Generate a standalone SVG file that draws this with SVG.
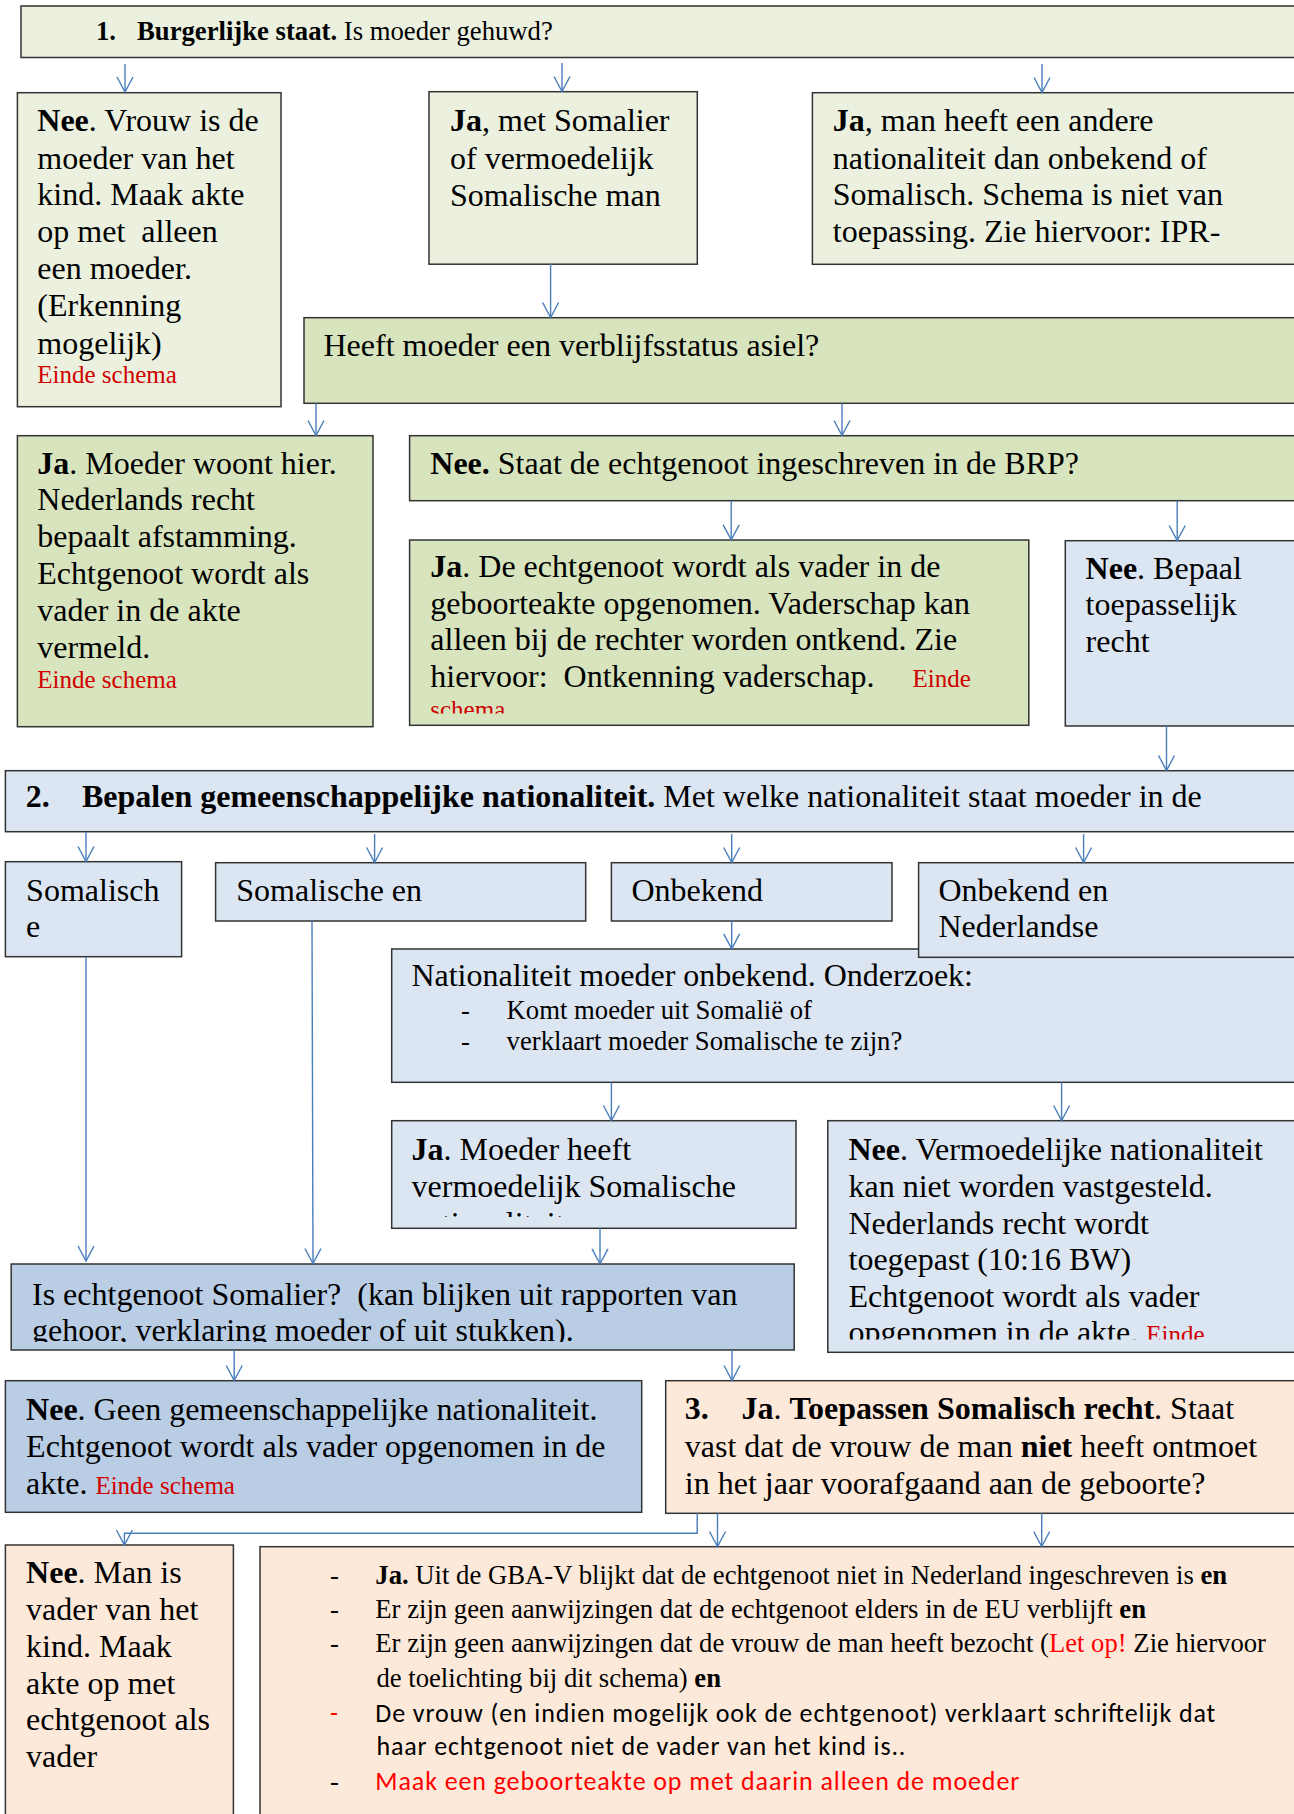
<svg xmlns="http://www.w3.org/2000/svg" width="1294" height="1814" viewBox="0 0 1294 1814">
<style>
.bx{stroke:#333;stroke-width:1.5}
.g1{fill:#EBF1DE}.g2{fill:#D7E4BD}.b1{fill:#DCE6F2}.b2{fill:#B9CDE5}.p1{fill:#FDE9D9}
text{font-family:"Liberation Serif","Times New Roman",serif;font-size:32px;fill:#000}
.s{font-size:26.7px}
.e{fill:#D00000;font-size:25px}
.b{font-weight:bold}
.r{fill:#FF0000}
.c{font-family:"Carlito","Lato",sans-serif;font-size:26px}
.conn{stroke:#4A7EBB;stroke-width:1.4;fill:none;marker-end:url(#arr)}
</style>
<defs>
<marker id="arr" markerUnits="userSpaceOnUse" markerWidth="20" markerHeight="20" viewBox="-16 -10 20 20" refX="0" refY="0" orient="auto">
<path d="M-15,-8 L0,0 L-15,8" fill="none" stroke="#4A7EBB" stroke-width="1.4"/>
</marker>
<clipPath id="cH"><rect x="400" y="540" width="640" height="173.5"/></clipPath>
<clipPath id="cQ"><rect x="390" y="1120" width="410" height="97"/></clipPath>
<clipPath id="cR"><rect x="820" y="1120" width="480" height="219.5"/></clipPath>
<clipPath id="cP"><rect x="10" y="1264" width="790" height="78"/></clipPath>
</defs>

<g id="nA">
<rect class="bx g1" x="21" y="6" width="1290" height="51.5"/>
<text class="s" x="96" y="39.5"><tspan class="b">1.</tspan><tspan x="137" class="b">Burgerlijke staat.</tspan> Is moeder gehuwd?</text>
</g>

<g id="nB">
<rect class="bx g1" x="17.4" y="92.7" width="263.6" height="314"/>
<text x="37.3" y="131.3" xml:space="preserve"><tspan class="b">Nee</tspan>. Vrouw is de</text>
<text x="37.3" y="168.5">moeder van het</text>
<text x="37.3" y="205.3">kind. Maak akte</text>
<text x="37.3" y="241.5" xml:space="preserve">op met  alleen</text>
<text x="37.3" y="279.3">een moeder.</text>
<text x="37.3" y="316">(Erkenning</text>
<text x="37.3" y="353.5">mogelijk)</text>
<text class="e" x="37.3" y="383.2">Einde schema</text>
</g>

<g id="nC">
<rect class="bx g1" x="429" y="91.7" width="268.3" height="172.5"/>
<text x="450" y="131.3"><tspan class="b">Ja</tspan>, met Somalier</text>
<text x="450" y="168.7">of vermoedelijk</text>
<text x="450" y="206">Somalische man</text>
</g>

<g id="nD">
<rect class="bx g1" x="812.4" y="92.7" width="500" height="171.6"/>
<text x="832.8" y="131.3"><tspan class="b">Ja</tspan>, man heeft een andere</text>
<text x="832.8" y="168.5">nationaliteit dan onbekend of</text>
<text x="832.8" y="205.3">Somalisch. Schema is niet van</text>
<text x="832.8" y="241.5">toepassing. Zie hiervoor: IPR-</text>
</g>

<g id="nE">
<rect class="bx g2" x="304" y="317.7" width="1000" height="85.6"/>
<text x="323.5" y="355.8">Heeft moeder een verblijfsstatus asiel?</text>
</g>

<g id="nF">
<rect class="bx g2" x="17.4" y="435.7" width="355.6" height="291"/>
<text x="37.3" y="473.7"><tspan class="b">Ja</tspan>. Moeder woont hier.</text>
<text x="37.3" y="510.3">Nederlands recht</text>
<text x="37.3" y="547">bepaalt afstamming.</text>
<text x="37.3" y="584.3">Echtgenoot wordt als</text>
<text x="37.3" y="621">vader in de akte</text>
<text x="37.3" y="657.7">vermeld.</text>
<text class="e" x="37.3" y="688.2">Einde schema</text>
</g>

<g id="nG">
<rect class="bx g2" x="409.6" y="435.7" width="900" height="65"/>
<text x="430.3" y="474"><tspan class="b">Nee.</tspan> Staat de echtgenoot ingeschreven in de BRP?</text>
</g>

<g id="nH">
<rect class="bx g2" x="409.6" y="540" width="619.2" height="185.3"/>
<g clip-path="url(#cH)">
<text x="430.3" y="577"><tspan class="b">Ja</tspan>. De echtgenoot wordt als vader in de</text>
<text x="430.3" y="613.7">geboorteakte opgenomen. Vaderschap kan</text>
<text x="430.3" y="650.3">alleen bij de rechter worden ontkend. Zie</text>
<text x="430.3" y="687" xml:space="preserve">hiervoor:  Ontkenning vaderschap.</text>
<text class="e" x="912.6" y="686.5">Einde</text>
<text class="e" x="430.3" y="718">schema</text>
</g>
</g>

<g id="nI">
<rect class="bx b1" x="1065.3" y="540.7" width="240" height="185.3"/>
<text x="1085.6" y="578.7"><tspan class="b">Nee</tspan>. Bepaal</text>
<text x="1085.6" y="615.3">toepasselijk</text>
<text x="1085.6" y="652">recht</text>
</g>

<g id="nJ">
<rect class="bx b1" x="5.4" y="770.7" width="1300" height="61"/>
<text x="25.7" y="807.3"><tspan class="b">2.</tspan><tspan x="82" class="b">Bepalen gemeenschappelijke nationaliteit.</tspan> Met welke nationaliteit staat moeder in de</text>
</g>

<g id="nK">
<rect class="bx b1" x="5.4" y="861.7" width="176.2" height="95"/>
<text x="26.1" y="900.5">Somalisch</text>
<text x="26.1" y="937.2">e</text>
</g>

<g id="nL">
<rect class="bx b1" x="215.6" y="862.7" width="370.1" height="58.3"/>
<text x="236.3" y="900.5">Somalische en</text>
</g>

<g id="nM">
<rect class="bx b1" x="611.4" y="862.7" width="280.6" height="58.3"/>
<text x="631.4" y="900.5">Onbekend</text>
</g>

<g id="nO">
<rect class="bx b1" x="391.7" y="949" width="910" height="133.3"/>
<text x="411.4" y="986.2">Nationaliteit moeder onbekend. Onderzoek:</text>
<text class="s" x="461" y="1019.3">-</text>
<text class="s" x="506.6" y="1019.3">Komt moeder uit Somalië of</text>
<text class="s" x="461" y="1050.3">-</text>
<text class="s" x="506.6" y="1050.3">verklaart moeder Somalische te zijn?</text>
</g>

<g id="nN">
<rect class="bx b1" x="918.6" y="862.7" width="390" height="94.6"/>
<text x="938.5" y="900.5">Onbekend en</text>
<text x="938.5" y="937.2">Nederlandse</text>
</g>

<g id="nQ">
<rect class="bx b1" x="391.7" y="1120.7" width="404.3" height="107.6"/>
<g clip-path="url(#cQ)">
<text x="411.6" y="1160.3"><tspan class="b">Ja</tspan>. Moeder heeft</text>
<text x="411.6" y="1197">vermoedelijk Somalische</text>
<text x="411.6" y="1233.7">nationaliteit</text>
</g>
</g>

<g id="nR">
<rect class="bx b1" x="827.8" y="1120.7" width="480" height="231.6"/>
<g clip-path="url(#cR)">
<text x="848.5" y="1160.3"><tspan class="b">Nee</tspan>. Vermoedelijke nationaliteit</text>
<text x="848.5" y="1197">kan niet worden vastgesteld.</text>
<text x="848.5" y="1233.7">Nederlands recht wordt</text>
<text x="848.5" y="1270.3">toegepast (10:16 BW)</text>
<text x="848.5" y="1307">Echtgenoot wordt als vader</text>
<text x="848.5" y="1342.7">opgenomen in de akte. <tspan class="e">Einde</tspan></text>
</g>
</g>

<g id="nP">
<rect class="bx b2" x="11.2" y="1264" width="783" height="86"/>
<g clip-path="url(#cP)">
<text x="32" y="1305.3" xml:space="preserve">Is echtgenoot Somalier?  (kan blijken uit rapporten van</text>
<text x="32" y="1341">gehoor, verklaring moeder of uit stukken).</text>
</g>
</g>

<g id="nS">
<rect class="bx b2" x="5.4" y="1380.7" width="636.3" height="131.6"/>
<text x="26.1" y="1420.3"><tspan class="b">Nee</tspan>. Geen gemeenschappelijke nationaliteit.</text>
<text x="26.1" y="1457">Echtgenoot wordt als vader opgenomen in de</text>
<text x="26.1" y="1493.7">akte. <tspan class="e">Einde schema</tspan></text>
</g>

<g id="nT">
<rect class="bx p1" x="665.7" y="1380.7" width="640" height="132.6"/>
<text x="684.8" y="1419"><tspan class="b">3.</tspan><tspan x="741.6" class="b">Ja</tspan>. <tspan class="b">Toepassen Somalisch recht</tspan>. Staat</text>
<text x="684.8" y="1457">vast dat de vrouw de man <tspan class="b">niet</tspan> heeft ontmoet</text>
<text x="684.8" y="1493.7">in het jaar voorafgaand aan de geboorte?</text>
</g>

<g id="nU">
<rect class="bx p1" x="5.4" y="1545" width="228" height="290"/>
<text x="26.1" y="1582.7"><tspan class="b">Nee</tspan>. Man is</text>
<text x="26.1" y="1620.3">vader van het</text>
<text x="26.1" y="1657">kind. Maak</text>
<text x="26.1" y="1693.7">akte op met</text>
<text x="26.1" y="1730.3">echtgenoot als</text>
<text x="26.1" y="1767">vader</text>
</g>

<g id="nV">
<rect class="bx p1" x="260" y="1546.7" width="1050" height="290"/>
<text class="s" x="330" y="1584.2">-</text>
<text class="s" x="375.3" y="1584.2"><tspan class="b">Ja.</tspan> Uit de GBA-V blijkt dat de echtgenoot niet in Nederland ingeschreven is <tspan class="b">en</tspan></text>
<text class="s" x="330" y="1618.2">-</text>
<text class="s" x="375.3" y="1618.2">Er zijn geen aanwijzingen dat de echtgenoot elders in de EU verblijft <tspan class="b">en</tspan></text>
<text class="s" x="330" y="1652.2">-</text>
<text class="s" x="375.3" y="1652.2">Er zijn geen aanwijzingen dat de vrouw de man heeft bezocht (<tspan class="r">Let op!</tspan> Zie hiervoor</text>
<text class="s" x="376.4" y="1686.5">de toelichting bij dit schema) <tspan class="b">en</tspan></text>
<text class="c r" x="330" y="1721.5">-</text>
<text class="c" x="375.3" y="1721.5" textLength="840">De vrouw (en indien mogelijk ook de echtgenoot) verklaart schriftelijk dat</text>
<text class="c" x="376.4" y="1754.8" textLength="529">haar echtgenoot niet de vader van het kind is..</text>
<text class="s" x="330" y="1789.8">-</text>
<text class="c r" x="375.3" y="1789.8" textLength="644">Maak een geboorteakte op met daarin alleen de moeder</text>
</g>

<g id="connectors">
<path class="conn" d="M125,64 V92"/>
<path class="conn" d="M562,63 V91.5"/>
<path class="conn" d="M1042,64 V92.5"/>
<path class="conn" d="M550.6,264 V317.5"/>
<path class="conn" d="M316,403.3 V435.5"/>
<path class="conn" d="M842,403.3 V435.5"/>
<path class="conn" d="M731.2,500.7 V539.8"/>
<path class="conn" d="M1177.2,500.7 V540.5"/>
<path class="conn" d="M1166.5,726 V770.5"/>
<path class="conn" d="M86,832 V861.5"/>
<path class="conn" d="M374.6,834 V862.5"/>
<path class="conn" d="M731.7,834 V862.5"/>
<path class="conn" d="M1083.6,834 V862.5"/>
<path class="conn" d="M731.7,921 V948.8"/>
<path class="conn" d="M86,956.7 V1261"/>
<path class="conn" d="M312,921 L313,1263.5"/>
<path class="conn" d="M611.4,1082.3 V1120.5"/>
<path class="conn" d="M1061.6,1082.3 V1120.5"/>
<path class="conn" d="M600,1228.3 V1263.8"/>
<path class="conn" d="M234.2,1350 V1380.5"/>
<path class="conn" d="M732,1350 V1380.5"/>
<path class="conn" d="M697.2,1513.3 V1533.3 H124.4 V1545"/>
<path class="conn" d="M717.5,1513.3 V1546.5"/>
<path class="conn" d="M1041.7,1513.3 V1546.5"/>
</g>
</svg>
